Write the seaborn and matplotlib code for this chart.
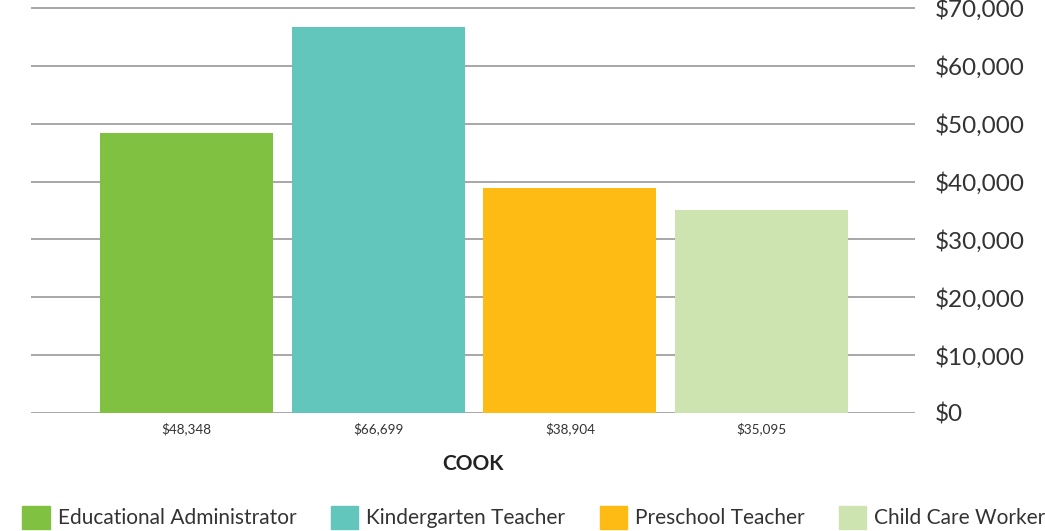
import matplotlib
matplotlib.use("Agg")
import matplotlib.pyplot as plt
import matplotlib.ticker as mticker
import pandas as pd
import seaborn as sns

# data
occupations = ['Educational Administrator', 'Kindergarten Teacher', 'Preschool Teacher', 'Child Care Worker']
salaries = [48348, 66699, 38904, 35095]
colors = ['#80C141', '#62C6BC', '#FDBB13', '#CDE4B0']
yticks = [0, 10000, 20000, 30000, 40000, 50000, 60000, 70000]
region = 'COOK'

df = pd.DataFrame({'Occupation': occupations, 'Salary': salaries})

sns.set_style('white')
plt.rcParams['font.family'] = ['Lato', 'DejaVu Sans']

fig = plt.figure(figsize=(10.45, 5.31), dpi=100)
ax = fig.add_axes([31 / 1045, 118 / 531, 884 / 1045, 413 / 531])

sns.barplot(data=df, x='Occupation', y='Salary', hue='Occupation', palette=colors,
            width=0.903, dodge=False, legend=False, ax=ax, saturation=1, linewidth=0)

ax.set_xlim(-0.81, 3.80)
ax.set_ylim(0, 71380)
ax.set_yticks(yticks)
ax.yaxis.tick_right()
ax.yaxis.set_major_formatter(mticker.FuncFormatter(lambda v, p: '${:,.0f}'.format(v)))
ax.tick_params(axis='y', length=0, pad=14, labelsize=17.5, labelcolor='#333333')
ax.yaxis.grid(True, color='#a0a0a0', linewidth=1.3)
ax.set_axisbelow(True)

ax.set_xticks(range(len(occupations)))
ax.set_xticklabels(['${:,.0f}'.format(s) for s in salaries])
ax.tick_params(axis='x', length=0, pad=7, labelsize=9.7, labelcolor='#333333')
ax.set_xlabel(region, fontsize=15, fontweight='bold', color='#222222', labelpad=13)
ax.set_ylabel('')

for side in ['top', 'right', 'left', 'bottom']:
    ax.spines[side].set_visible(False)

handles = [plt.Rectangle((0, 0), 1, 1, color=c) for c in colors]
fig.legend(handles, occupations, loc='lower left', bbox_to_anchor=(0.0135, -0.011), ncol=4,
           frameon=False, fontsize=15, handlelength=1.3, handleheight=1.3,
           handletextpad=0.4, columnspacing=1.65, labelcolor='#333333', borderaxespad=0)

fig.savefig('out.png', dpi=100)
